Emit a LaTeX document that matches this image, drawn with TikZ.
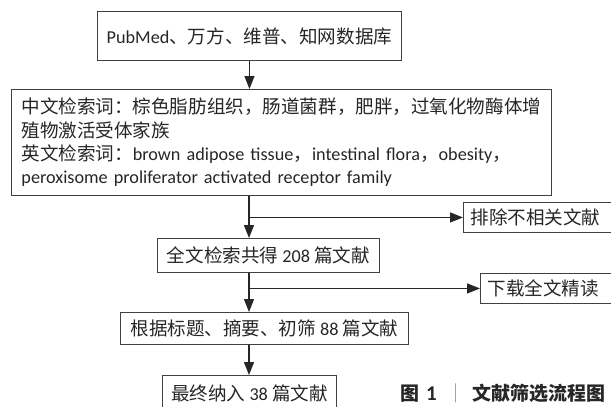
\documentclass[tikz,border=0pt]{standalone}
\usepackage{fontspec}
\setmainfont{Carlito}
\newfontfamily\cjk[Scale=1.02]{Noto Sans CJK SC}
\usetikzlibrary{arrows.meta}
\begin{document}
\begin{tikzpicture}[x=1pt,y=-1pt,
  box/.style={draw=black!75, line width=0.9pt, inner sep=0pt, text=black!85,
    font=\fontsize{18.2}{23.3}\selectfont},
  arr/.style={-{Triangle[length=13pt,width=10pt]}, line width=1.1pt, draw=black!85}]
\useasboundingbox (0,0) rectangle (611,407);
\clip (0,0) rectangle (611,407);
\coordinate (sp) at (249,0);
\node[box, minimum width=304, minimum height=49, anchor=north west] (b1) at (97,11)
  {PubMed{\cjk 、万方、维普、知网数据库}};
\node[box, minimum width=540, minimum height=106, anchor=north west, text width=520,
  inner xsep=10, align=left] (b2) at (11,89)
  {{\cjk 中文检索词：棕色脂肪组织，肠道菌群，肥胖，过氧化物酶体增}\\
   {\cjk 殖物激活受体家族}\\
   {\cjk 英文检索词：}brown adipose tissue{\cjk ，}intestinal flora{\cjk ，}obesity{\cjk ，}\\
   peroxisome proliferator activated receptor family};
\node[box, minimum width=222, minimum height=34, anchor=north west] (b3) at (157,238)
  {{\cjk 全文检索共得} 208 {\cjk 篇文献}};
\node[box, minimum width=288, minimum height=32, anchor=north west] (b4) at (120,312)
  {{\cjk 根据标题、摘要、初筛} 88 {\cjk 篇文献}};
\node[box, minimum width=174, minimum height=36, anchor=north west] (b5) at (162,375)
  {{\cjk 最终纳入} 38 {\cjk 篇文献}};
\node[box, minimum height=30, anchor=north west, text width=146, inner xsep=7, align=left]
  (ex) at (463,202) {{\cjk 排除不相关文献}};
\node[box, minimum height=30, anchor=north west, text width=140, inner xsep=7, align=left]
  (dl) at (480,273) {{\cjk 下载全文精读}};
\node[anchor=west, inner sep=0pt, text=black!85, font=\fontsize{18.6}{23}\selectfont\bfseries]
  (cap) at (400,393) {{\cjk 图}\hspace{7pt}{\fontsize{21}{23}\selectfont 1}\hspace{10pt}{\mdseries\color{black!45}\cjk ｜}\hspace{7pt}{\cjk 文献筛选流程图}};
\draw[arr] (b1.south) -- (b1.south |- b2.north);
\draw[arr] (b2.south -| sp) -- (b3.north -| sp);
\draw[arr] (ex.west -| sp) -- (ex.west);
\draw[arr] (b3.south -| sp) -- (b4.north -| sp);
\draw[arr] (dl.west -| sp) -- (dl.west);
\draw[arr] (b4.south -| sp) -- (b5.north -| sp);
\end{tikzpicture}
\end{document}
